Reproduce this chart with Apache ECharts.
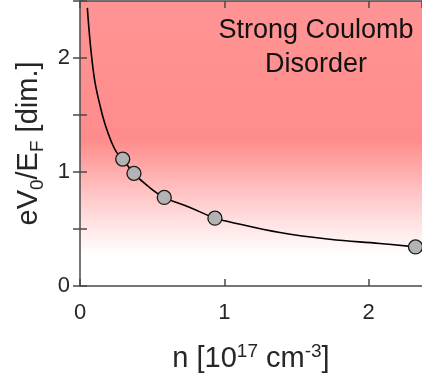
<!DOCTYPE html>
<html>
<head>
<meta charset="utf-8">
<script src="https://cdn.jsdelivr.net/npm/echarts@6/dist/echarts.min.js"></script>
<style>
  html, body { margin: 0; padding: 0; background: #fff; }
  #chart { width: 422px; height: 381px; }
</style>
</head>
<body>
<div id="chart"></div>
<script>
// fit curve
const curveN = [0.051, 0.064, 0.081, 0.104, 0.139, 0.173, 0.219, 0.254, 0.296, 0.374, 0.473, 0.584, 0.762, 0.935, 1.039, 1.385, 1.731, 2.078, 2.325];
const curveV = [2.44, 2.227, 2.007, 1.787, 1.582, 1.421, 1.26, 1.172, 1.113, 0.988, 0.873, 0.777, 0.689, 0.595, 0.562, 0.469, 0.41, 0.373, 0.343];

// measured points
const pointN = [0.296, 0.374, 0.584, 0.935, 2.325];
const pointV = [1.113, 0.988, 0.777, 0.595, 0.343];

const xTicks = [0, 1, 2];
const yTicks = [0, 1, 2];

const X_MAX = 2.37;
const Y_MAX = 2.5;

const FONT = "'Liberation Sans', Arial, Helvetica, sans-serif";
const AXIS_COLOR = '#4a4a4a';
const TEXT_COLOR = '#262626';

const chart = echarts.init(document.getElementById('chart'));

const zip = (a, b) => a.map((v, i) => [v, b[i]]);

const boxAxis = {
  z: 10,
  axisLine: { show: true, onZero: false, lineStyle: { color: AXIS_COLOR, width: 1.5 } },
  axisTick: { show: true, inside: true, length: 7, lineStyle: { color: AXIS_COLOR, width: 1.5 } },
  splitLine: { show: false },
};

const option = {
  animation: false,
  grid: { left: 80, right: 0, top: 1, bottom: 94, containLabel: false },
  xAxis: [
    {
      type: 'value', min: 0, max: X_MAX, interval: 1,
      ...boxAxis,
      axisLabel: {
        color: TEXT_COLOR, fontFamily: FONT, fontSize: 22, margin: 16,
        showMaxLabel: false,
        formatter: v => (xTicks.includes(v) ? String(v) : ''),
      },
      name: 'n [10{sup|17} cm{sup|-3}]',
      nameLocation: 'middle',
      nameGap: 56,
      nameTextStyle: {
        color: TEXT_COLOR, fontFamily: FONT, fontSize: 29, lineHeight: 34,
        rich: {
          sup: { fontSize: 19, fontFamily: FONT, color: TEXT_COLOR, padding: [0, 0, 14, 0] },
        },
      },
    },
    {
      type: 'value', position: 'top', min: 0, max: X_MAX, interval: 1,
      ...boxAxis,
      axisLabel: { show: false },
    },
  ],
  yAxis: [
    {
      type: 'value', min: 0, max: Y_MAX, interval: 0.5,
      ...boxAxis,
      axisLabel: {
        color: TEXT_COLOR, fontFamily: FONT, fontSize: 22, margin: 10,
        formatter: v => (yTicks.includes(v) ? String(v) : ''),
      },
      name: 'eV{sub|0}/E{sub|F} [dim.]',
      nameLocation: 'middle',
      nameGap: 33,
      nameTextStyle: {
        color: TEXT_COLOR, fontFamily: FONT, fontSize: 29, lineHeight: 34,
        rich: {
          sub: { fontSize: 19, fontFamily: FONT, color: TEXT_COLOR, padding: [16, 0, 0, 0] },
        },
      },
    },
    {
      type: 'value', position: 'right', min: 0, max: Y_MAX, interval: 0.5,
      ...boxAxis,
      axisLine: { show: false },
      axisLabel: { show: false },
    },
  ],
  graphic: [
    {
      type: 'text',
      x: 316, y: 14,
      z: 100,
      silent: true,
      style: {
        text: 'Strong Coulomb\nDisorder',
        align: 'center', verticalAlign: 'top',
        font: '27px ' + FONT,
        lineHeight: 34,
        fill: '#111',
      },
    },
  ],
  series: [
    {
      type: 'line',
      data: zip(curveN, curveV),
      smooth: 0.4,
      showSymbol: false,
      lineStyle: { color: '#000', width: 1.6 },
      z: 3,
      markArea: {
        silent: true,
        itemStyle: {
          color: new echarts.graphic.LinearGradient(0, 0, 0, 1, [
            { offset: 0, color: '#ff9494' },
            { offset: 0.49, color: '#ff8c8c' },
            { offset: 0.66, color: '#ffc0c0' },
            { offset: 0.83, color: '#fff0f0' },
            { offset: 0.89, color: '#ffffff' },
            { offset: 1, color: '#ffffff' },
          ]),
        },
        data: [[{ xAxis: 0, yAxis: Y_MAX }, { xAxis: X_MAX, yAxis: 0 }]],
      },
    },
    {
      type: 'scatter',
      data: zip(pointN, pointV),
      symbolSize: 14,
      itemStyle: { color: '#b3b3b3', borderColor: '#1a1a1a', borderWidth: 1.3, opacity: 1 },
      z: 4,
    },
  ],
};

chart.setOption(option);
</script>
</body>
</html>
